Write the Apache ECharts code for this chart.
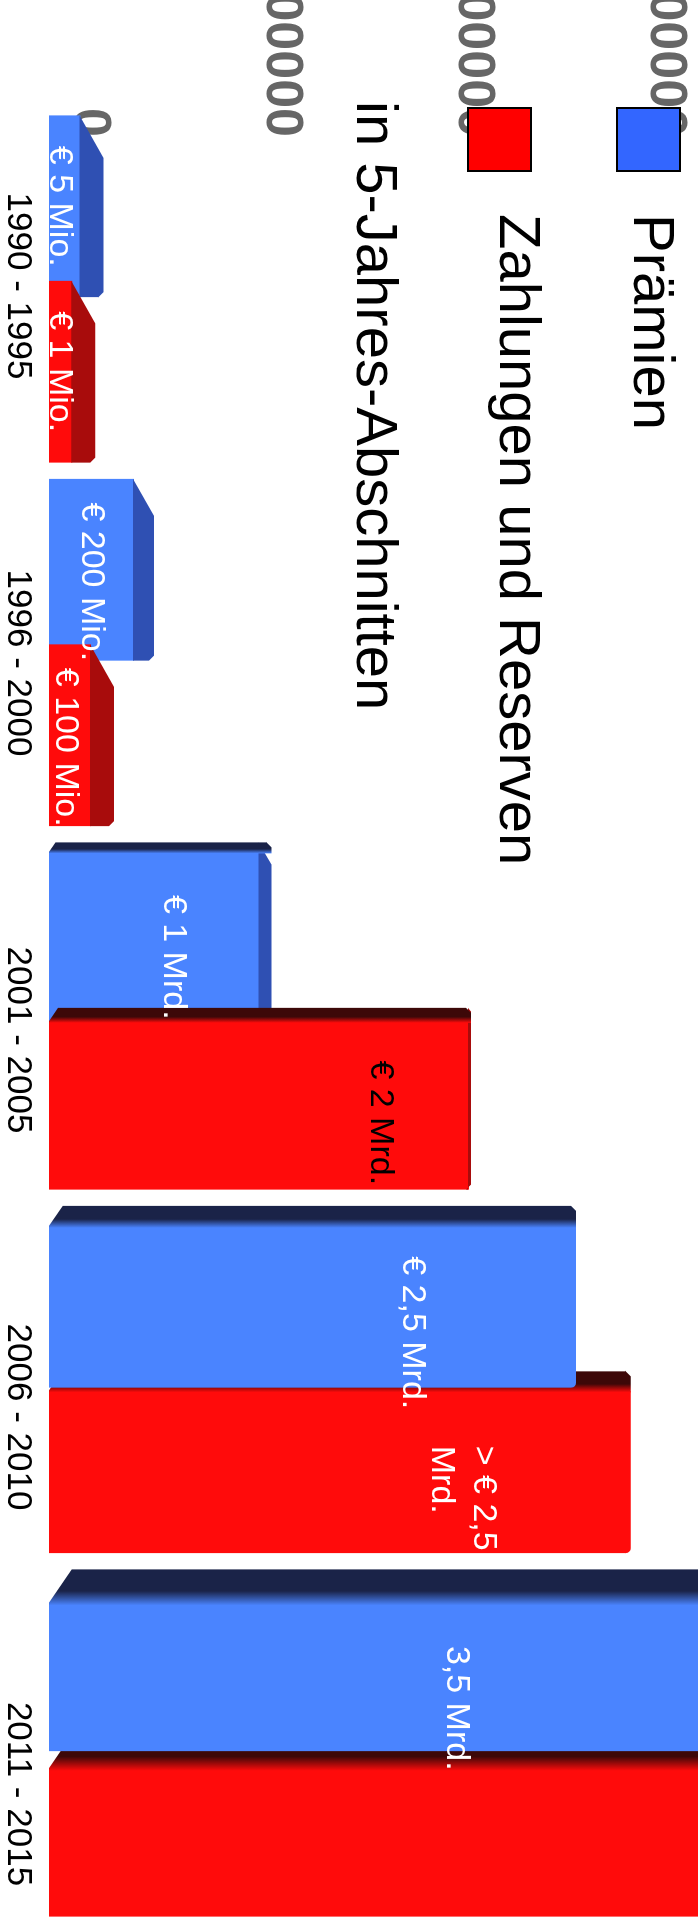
<!DOCTYPE html>
<html><head><meta charset="utf-8">
<script src="https://cdn.jsdelivr.net/npm/echarts@6/dist/echarts.min.js"></script>
<style>
html,body{margin:0;padding:0;width:698px;height:1917px;overflow:hidden;background:#fff;}
#chart{position:absolute;left:0;top:0;width:1917px;height:698px;transform-origin:0 0;transform:translate(698px,0) rotate(90deg);}
</style></head><body><div id="chart"></div>
<script>
// ---- data ----
const categories = ['1990 - 1995', '1996 - 2000', '2001 - 2005', '2006 - 2010', '2011 - 2015'];
const seriesNames = ['Prämien', 'Zahlungen und Reserven'];
// bar lengths as drawn (Mrd. EUR on the drawing scale)
const praemien = [0.26, 0.50, 1.06, 2.51, 3.50];
const zahlungen = [0.22, 0.31, 2.01, 2.77, 3.40];
const praemienLabels = ['€ 5 Mio.', '€ 200 Mio.', '€ 1 Mrd.', '€ 2,5 Mrd.', '3,5 Mrd.'];
const zahlungenLabels = ['€ 1 Mio.', '€ 100 Mio.', '€ 2 Mrd.', '> € 2,5\nMrd.', ''];
const praemienLabelAt = [0.05, 0.20, 0.59, 1.73, 1.94];
const zahlungenLabelAt = [0.05, 0.08, 1.58, 1.97, 0];
const tickLabels = ['0', '1000000000', '2000000000', '3000000000'];
const titleText = 'in 5-Jahres-Abschnitten';

// ---- 3D look (styles) ----
const FONT = '"Liberation Sans", Arial, Helvetica, sans-serif';
const palette = [
  {front: '#4a84ff', side: '#1a2348', top: '#2f50b3', legend: '#3366ff'},
  {front: '#ff0b0b', side: '#3d0808', top: '#a80c0c', legend: '#ff0000'}
];
const endFace = [[23, 20, 12, 0, 0], [23, 23, 2, 0, 0]];
const sideFace = [[0, 0, 10, 21, 35], [0, 0, 14, 20, 35]];
const darkLabels = [[], [2]];
const barAxisMax = 649 / 210;   // front plane: 210 px per unit, visible part of the axis

const mctx = document.createElement('canvas').getContext('2d');
mctx.font = '34px ' + FONT;
function textWidth(t) {
  return Math.max.apply(null, t.split('\n').map(l => mctx.measureText(l).width));
}

function makeRender(si, labels) {
  const pal = palette[si];
  return function (params, api) {
    const i = api.value(0), v = api.value(1), la = api.value(2);
    const base = api.coord([i, 0]);
    const top = api.coord([i, v]);
    const band = api.size([1, 0])[0];
    const W = band * 0.5;
    const cx = base[0] + (si === 0 ? -1 : 1) * band * 0.2276;
    const x0 = cx - W / 2, x1 = cx + W / 2;
    const yb = base[1], yt = top[1];
    const len = yb - yt;
    const s = sideFace[si][i];
    const t = Math.min(len * 0.5, endFace[si][i]);
    const z2 = si === 0 ? (i >= 3 ? 3 : 1) : 2;
    const ch = [];
    ch.push({type: 'rect', z2: z2,
      shape: {x: x0 + s, y: yt + t, width: x1 - x0 - s, height: yb - yt - t, r: t > 0 ? 0 : [s > 0 ? 0 : 5, 5, 0, 0]},
      style: {fill: pal.front}});
    if (t > 0) {
      ch.push({type: 'polygon', z2: z2,
        shape: {points: [[x0 + 1.85 * t, yt], [x1 - 5, yt], [x1, yt + 5], [x1, yt + t + 1], [x0, yt + t + 1]]},
        style: {fill: pal.top}});
    }
    if (s > 0) {
      ch.push({type: 'polygon', z2: z2,
        shape: {points: [[x0, yt + 5], [x0 + 5, yt], [x0 + s + 1, yt], [x0 + s + 1, yb], [x0 + 0.95 * s, yb], [x0, yb - 0.65 * s]]},
        style: {fill: new echarts.graphic.LinearGradient(0, 0, 1, 0, [
          {offset: 0, color: pal.side}, {offset: 0.6, color: pal.side}, {offset: 1, color: pal.front}])}});
    }
    const txt = labels[params.dataIndex];
    if (txt) {
      const w = textWidth(txt);
      const ly = api.coord([i, la])[1];
      ch.push({type: 'text', z2: 10,
        style: {text: txt, x: cx + 12 * i - w / 2, y: ly, align: 'left', verticalAlign: 'middle',
          fill: darkLabels[si].indexOf(i) >= 0 ? '#000' : '#fff',
          fontSize: 34, fontFamily: FONT, lineHeight: 42}});
    }
    return {type: 'group', children: ch};
  };
}

const chart = echarts.init(document.getElementById('chart'), null, {renderer: 'canvas'});
const legendBase = {
  orient: 'vertical', icon: 'rect', itemWidth: 63, itemHeight: 63,
  itemStyle: {borderColor: '#000', borderWidth: 2},
  formatter: '{t|{name}}'
};
function legendText(padBottom) {
  return {fontSize: 58, color: '#000', fontFamily: FONT, padding: [0, 0, padBottom, 38],
    rich: {t: {fontSize: 58, color: '#000', fontFamily: FONT}}};
}
chart.setOption({
  animation: false,
  textStyle: {fontFamily: FONT},
  title: {text: titleText, left: 96, top: 291,
    textStyle: {fontSize: 58, fontWeight: 'normal', color: '#000', fontFamily: FONT}},
  legend: [
    Object.assign({}, legendBase, {data: [seriesNames[0]], left: 102, top: 12, textStyle: legendText(4)}),
    Object.assign({}, legendBase, {data: [seriesNames[1]], left: 102, top: 148, textStyle: legendText(33)})
  ],
  grid: [
    {left: 107.25, width: 1817.5, top: 0, bottom: 49, outerBoundsMode: 'none', containLabel: false},
    {left: 97.5, width: 1885, top: 33, bottom: 89, outerBoundsMode: 'none', containLabel: false}
  ],
  xAxis: [
    {type: 'category', gridIndex: 0, data: categories, show: false},
    {type: 'category', gridIndex: 1, data: categories,
      axisLine: {show: false}, axisTick: {show: false}, splitLine: {show: false},
      axisLabel: {interval: 0, fontSize: 35, color: '#000', margin: 54, fontFamily: FONT}}
  ],
  yAxis: [
    {type: 'value', gridIndex: 0, min: 0, max: barAxisMax, show: false},
    {type: 'value', gridIndex: 1, min: 0, max: 3, interval: 1, offset: -39.5,
      axisLine: {show: false}, axisTick: {show: false}, splitLine: {show: false},
      axisLabel: {margin: 0, fontSize: 52, fontWeight: 'bold', color: '#666', fontFamily: FONT,
        formatter: v => tickLabels[Math.round(v)]}}
  ],
  series: [
    {type: 'custom', name: seriesNames[0], xAxisIndex: 0, yAxisIndex: 0, clip: true, z: 2, silent: true,
      itemStyle: {color: palette[0].legend},
      data: praemien.map((v, i) => [i, v, praemienLabelAt[i]]), encode: {x: 0, y: 1},
      renderItem: makeRender(0, praemienLabels)},
    {type: 'custom', name: seriesNames[1], xAxisIndex: 0, yAxisIndex: 0, clip: true, z: 2, silent: true,
      itemStyle: {color: palette[1].legend},
      data: zahlungen.map((v, i) => [i, v, zahlungenLabelAt[i]]), encode: {x: 0, y: 1},
      renderItem: makeRender(1, zahlungenLabels)}
  ]
});
</script></body></html>
